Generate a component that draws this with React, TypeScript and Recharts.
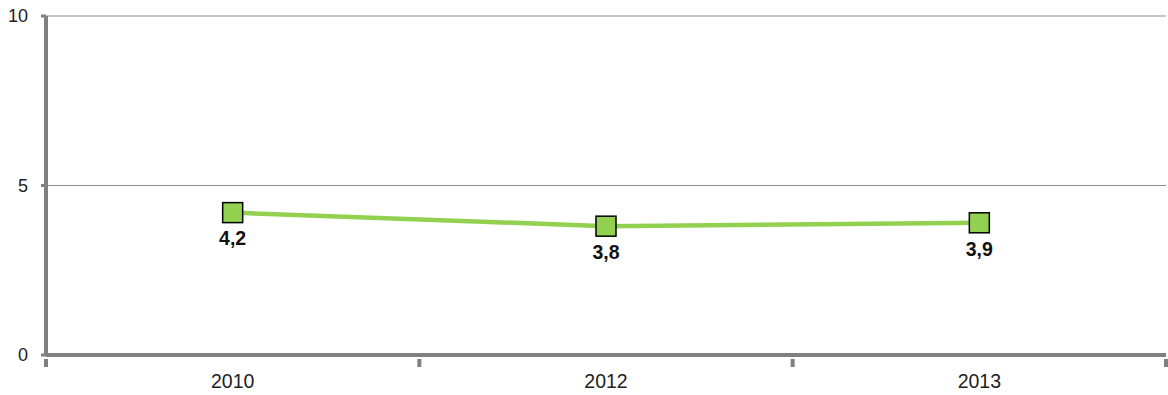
import React from 'react'
import {
  LineChart, Line, XAxis, YAxis, CartesianGrid, LabelList
} from 'recharts'

const years = ['2010', '2012', '2013']
const values = [4.2, 3.8, 3.9]
const yTicks = [0, 5, 10]

const data = years.map((year, i) => ({ year, value: values[i] }))

const W = 1168
const H = 395
const LEFT = 46
const RIGHT = 2
const BAND = (W - LEFT - RIGHT) / years.length
const FONT = "'Liberation Sans', Arial, sans-serif"

const SquareDot = ({ cx, cy }: any) => {
  if (cx == null || cy == null) return null
  return (
    <rect x={cx - 10} y={cy - 10} width={20} height={20}
      fill="#92D050" stroke="#000" strokeWidth={1.5} />
  )
}

// label at the band centre, tick marks at the band edges
const YearTick = ({ x, y, payload, index }: any) => {
  const last = index === years.length - 1
  return (
    <g>
      <line x1={x - BAND / 2} x2={x - BAND / 2} y1={y - 4} y2={y + 4} stroke="#808080" strokeWidth={4} />
      {last && <line x1={x + BAND / 2} x2={x + BAND / 2} y1={y - 4} y2={y + 4} stroke="#808080" strokeWidth={4} />}
      <text x={x} y={y + 25} textAnchor="middle" fill="#222" fontSize={19.5} fontFamily={FONT}>
        {payload.value}
      </text>
    </g>
  )
}

export default function App() {
  return (
    <div style={{ position: 'absolute', left: 0, top: 0, background: '#fff' }}>
      <LineChart width={W} height={H} data={data}
        margin={{ top: 16, right: RIGHT, bottom: 0, left: 0 }}>
        <CartesianGrid vertical={false} stroke="#8c8c8c" strokeWidth={1} />
        <XAxis dataKey="year" height={40} axisLine={{ stroke: '#808080', strokeWidth: 4 }}
          padding={{ left: BAND / 2, right: BAND / 2 }}
          tickLine={false} tick={<YearTick />} interval={0} />
        <YAxis domain={[0, 10]} ticks={yTicks} width={LEFT}
          axisLine={{ stroke: '#808080', strokeWidth: 4 }}
          tickLine={{ stroke: '#808080', strokeWidth: 3 }} tickSize={5} tickMargin={13}
          tick={{ fill: '#222', fontSize: 18, fontFamily: FONT }} />
        <Line dataKey="value" stroke="#92D050" strokeWidth={4.5} isAnimationActive={false}
          dot={<SquareDot />} activeDot={false}>
          <LabelList dataKey="value" position="bottom" offset={19}
            formatter={(v: any) => String(v).replace('.', ',')}
            style={{ fill: '#111', fontSize: 19.5, fontWeight: 'bold', fontFamily: FONT }} />
        </Line>
      </LineChart>
    </div>
  )
}
